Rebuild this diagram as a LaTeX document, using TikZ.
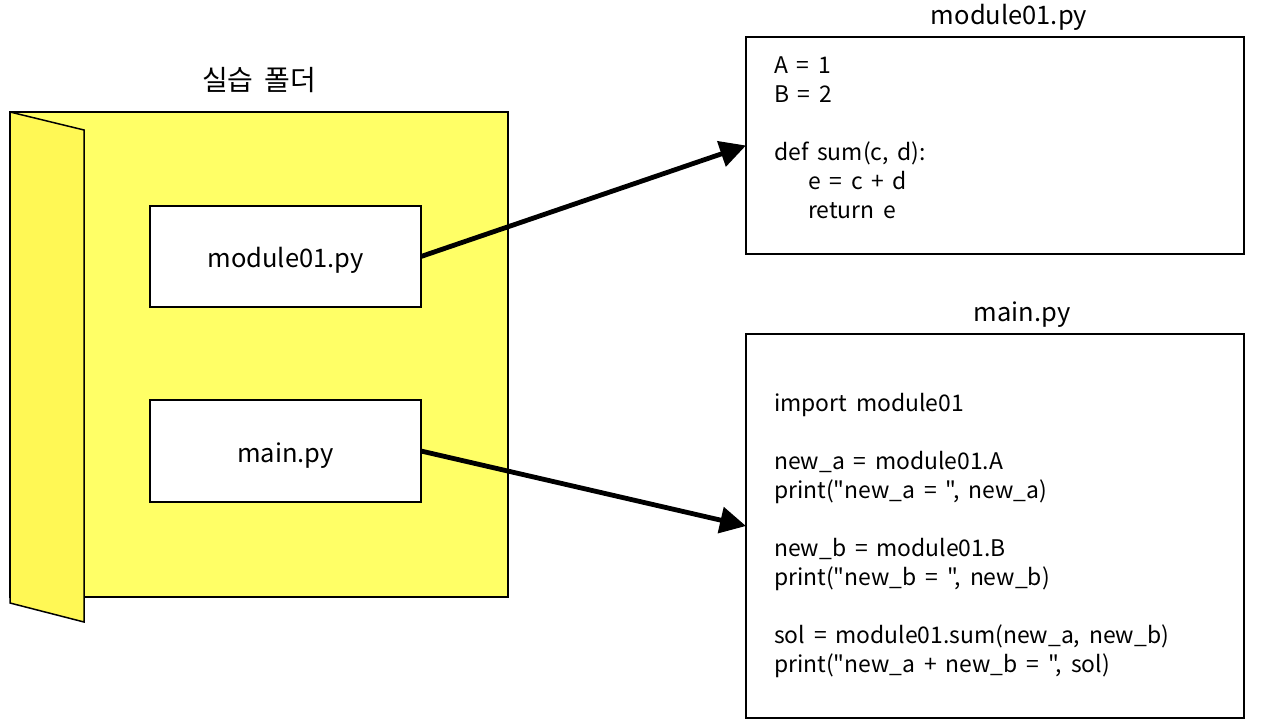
\documentclass[tikz,border=0pt]{standalone}
\usepackage{fontspec}
\setmainfont{Noto Sans CJK KR}[Ligatures=TeXOff,WordSpace=1.7]
\usetikzlibrary{arrows.meta}
\definecolor{folderback}{HTML}{FFFF66}
\definecolor{folderflap}{HTML}{FFF855}
\begin{document}
\begin{tikzpicture}[x=1pt,y=-1pt,
  outline/.style={draw=black,line width=1.5pt,outer sep=0pt},
  filebox/.style={outline,fill=white,inner sep=0pt,text height=29pt,text depth=6pt,font=\fontsize{25.5}{30}\selectfont},
  codetext/.style={anchor=north west,inner sep=0pt,align=left,font=\fontsize{22.9}{29}\selectfont},
  titletext/.style={inner sep=0pt,font=\fontsize{25.5}{30}\selectfont},
  link/.style={draw=black,line width=4.8pt,-{Triangle[length=26pt,width=26pt]}}]
\useasboundingbox (0,0) rectangle (1266,727);
\fill[white] (0,0) rectangle (1266,727);
\draw[outline,fill=folderback] (10,112) -- (508,112) -- (508,597) -- (10,597) -- cycle;
\draw[outline,fill=folderflap] (10,112) -- (84,130) -- (84,622) -- (10,603) -- cycle;
\node[titletext,font=\fontsize{28}{32}\selectfont] (foldertitle) at (259,80) {실습 폴더};
\node[filebox,minimum width=271pt,minimum height=101pt] (m1) at (285.5,256.5) {module01.py};
\node[filebox,minimum width=271pt,minimum height=102pt] (mainf) at (285.5,451) {main.py};
\node[outline,minimum width=498pt,minimum height=217pt,inner sep=0pt] (c1) at (995,145.5) {};
\node[outline,minimum width=498pt,minimum height=384pt,inner sep=0pt] (c2) at (995,526) {};
\node[titletext] (t1) at (1009,17) {module01.py};
\node[titletext] (t2) at (1022,315) {main.py};
\node[codetext] (code1) at (774,57) {A = 1\\B = 2\\[29pt]def sum(c, d):\\\hspace*{34pt}e = c + d\\\hspace*{34pt}return e};
\node[codetext] (code2) at (774,393.5) {import module01\\[29pt]new\_a = module01.A\\print("new\_a = ", new\_a)\\[29pt]new\_b = module01.B\\print("new\_b = ", new\_b)\\[29pt]sol = module01.sum(new\_a, new\_b)\\print("new\_a + new\_b = ", sol)};
\draw[link] (m1.east) -- (c1.west);
\draw[link] (mainf.east) -- (c2.west);
\end{tikzpicture}
\end{document}
